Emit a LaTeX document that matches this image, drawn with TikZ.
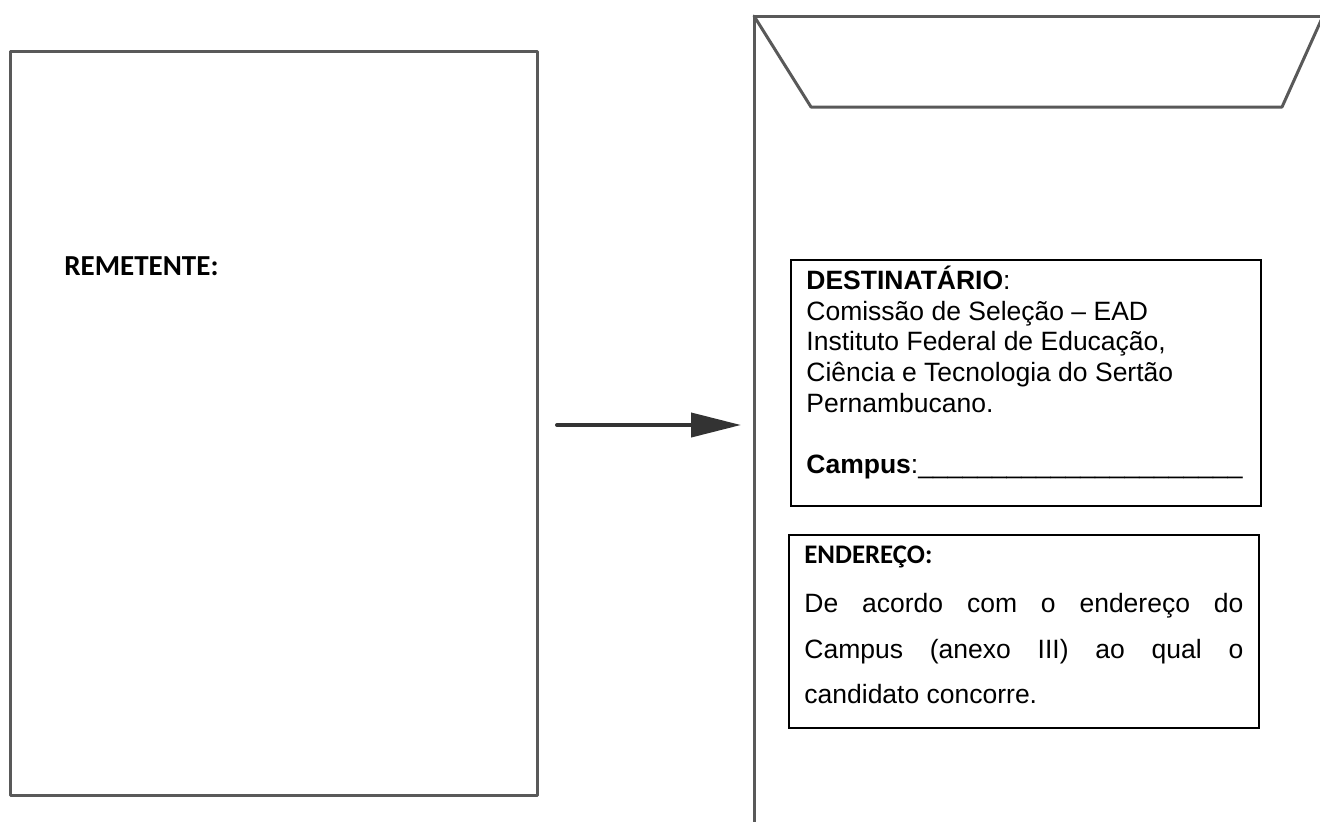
\documentclass[tikz,border=0pt]{standalone}
\usepackage{fontspec}
\setmainfont{Liberation Sans}
\newfontfamily\calibri{Carlito}
\usetikzlibrary{arrows.meta}
\begin{document}
\begin{tikzpicture}[x=0.5pt,y=-0.5pt,
  outline/.style={draw=gray!70!black, line width=1.5pt, line join=round, line cap=round},
  tbox/.style={draw=black, line width=1.1pt},
  txt/.style={anchor=base west, inner sep=0pt, font=\fontsize{13.25}{15}\selectfont},
  lbl/.style={anchor=base west, inner sep=0pt, font=\calibri\bfseries\fontsize{13.4}{15}\selectfont},
  pointer/.style={draw=black!80, line width=2pt, line cap=round, -{Triangle[length=25pt,width=12pt]}}]
\useasboundingbox (0,0) rectangle (1320,821);
\begin{scope}
  \clip (0,0) rectangle (1320,821);
  % sender sheet
  \draw[outline] (10,51) rectangle (537,795);
  % envelope
  \draw[outline] (754,830) -- (754,16) -- (1330,16);
  \draw[outline] (754,16) -- (811,107) -- (1282,107) -- (1323,16);
\end{scope}
% sender label
\node[lbl, font=\calibri\bfseries\fontsize{14.5}{17}\selectfont] (rem) at (64,275) {REMETENTE:};
% arrow
\coordinate (tail) at (557,425);
\coordinate (tip) at (741,425);
\draw[pointer] (tail) -- (tip);
% recipient box
\draw[tbox] (791,260) rectangle (1261,506);
\node[txt] (d1) at (806,289) {\textbf{DESTINATÁRIO}:};
\node[txt] (d2) at (806,320) {Comissão de Seleção – EAD};
\node[txt] (d3) at (806,350) {Instituto Federal de Educação,};
\node[txt] (d4) at (806,381) {Ciência e Tecnologia do Sertão};
\node[txt] (d5) at (806,412) {Pernambucano.};
\node[txt] (d6) at (806,473) {\textbf{Campus}:\_\_\_\_\_\_\_\_\_\_\_\_\_\_\_\_\_\_\_\_\_\_};
% address box
\draw[tbox] (789,535) rectangle (1259,728);
\node[lbl] (e0) at (804,563) {ENDEREÇO:};
\node[txt] (e1) at (804,612) {\makebox[219.5pt][s]{De acordo com o endereço do}};
\node[txt] (e2) at (804,658) {\makebox[219.5pt][s]{Campus (anexo III) ao qual o}};
\node[txt] (e3) at (804,703) {candidato concorre.};
\end{tikzpicture}
\end{document}
